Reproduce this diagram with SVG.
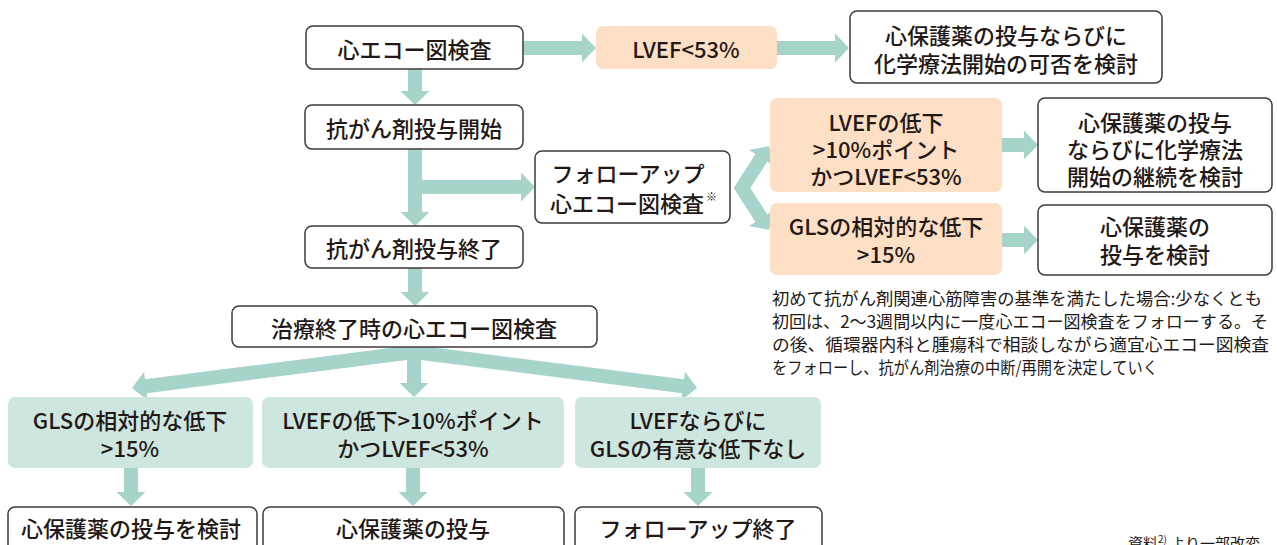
<svg xmlns="http://www.w3.org/2000/svg" xmlns:xlink="http://www.w3.org/1999/xlink" width="1277" height="545" viewBox="0 0 1277 545">
<style>
.bx{fill:#ffffff;stroke:#3e3a39;stroke-width:1.5}
.or{fill:#fcdfc4}
.gr{fill:#cde6e0}
.t{font-family:"Noto Sans CJK JP","Noto Sans",sans-serif;font-size:22px;font-weight:500;fill:#231815;text-anchor:middle;dominant-baseline:central}
.note{font-family:"Noto Sans CJK JP","Noto Sans",sans-serif;font-size:17px;font-weight:400;fill:#231815;dominant-baseline:central}
.sh{stroke:#a6d4cb;stroke-width:14;fill:none;stroke-linejoin:miter}
.hd{fill:#a6d4cb}
</style>
<defs>
<polygon id="ah" class="hd" points="0,0 -14,-14.5 -14,14.5"/>
</defs>
<rect width="1277" height="545" fill="#ffffff"/>
<g id="connectors">
<line class="sh" x1="523" y1="48" x2="584" y2="48"/><use xlink:href="#ah" transform="translate(596,48)"/>
<line class="sh" x1="777" y1="48" x2="837" y2="48"/><use xlink:href="#ah" transform="translate(849,48)"/>
<line class="sh" x1="415" y1="69" x2="415" y2="93"/><use xlink:href="#ah" transform="translate(415,105) rotate(90)"/>
<line class="sh" x1="415" y1="149" x2="415" y2="214"/><use xlink:href="#ah" transform="translate(415,226) rotate(90)"/>
<line class="sh" x1="415" y1="187" x2="523" y2="187"/><use xlink:href="#ah" transform="translate(535,187)"/>
<line class="sh" x1="415" y1="268" x2="415" y2="294"/><use xlink:href="#ah" transform="translate(415,306) rotate(90)"/>
<path class="sh" d="M762.5,156.1 L742,188 L762.5,219.9"/>
<use xlink:href="#ah" transform="translate(769,146) rotate(-57.3)"/>
<use xlink:href="#ah" transform="translate(769,230) rotate(57.3)"/>
<line class="sh" x1="1002" y1="145" x2="1026" y2="145"/><use xlink:href="#ah" transform="translate(1038,145)"/>
<line class="sh" x1="1002" y1="240" x2="1026" y2="240"/><use xlink:href="#ah" transform="translate(1038,240)"/>
<line class="sh" x1="414" y1="345" x2="414" y2="385"/><use xlink:href="#ah" transform="translate(414,397) rotate(90)"/>
<line class="sh" x1="414" y1="352" x2="143.9" y2="386.5"/><use xlink:href="#ah" transform="translate(132,388) rotate(172.73)"/>
<line class="sh" x1="414" y1="352" x2="685.1" y2="386.5"/><use xlink:href="#ah" transform="translate(697,388) rotate(7.25)"/>
<line class="sh" x1="131" y1="466" x2="131" y2="494"/><use xlink:href="#ah" transform="translate(131,506) rotate(90)"/>
<line class="sh" x1="413" y1="466" x2="413" y2="494"/><use xlink:href="#ah" transform="translate(413,506) rotate(90)"/>
<line class="sh" x1="698" y1="466" x2="698" y2="494"/><use xlink:href="#ah" transform="translate(698,506) rotate(90)"/>
</g>
<g id="n-echo"><rect class="bx" x="306" y="26" width="217" height="43" rx="7"/><text class="t" x="414.5" y="47.5">心エコー図検査</text></g>
<g id="n-lvef53"><rect class="or" x="596" y="26" width="181" height="43" rx="7"/><text class="t" x="686" y="47.5">LVEF&lt;53%</text></g>
<g id="n-consider-start"><rect class="bx" x="850" y="11" width="312" height="72" rx="7"/><text class="t" x="1006" y="34">心保護薬の投与ならびに</text><text class="t" x="1006" y="62">化学療法開始の可否を検討</text></g>
<g id="n-start"><rect class="bx" x="305" y="105" width="218" height="44" rx="7"/><text class="t" x="414" y="127">抗がん剤投与開始</text></g>
<g id="n-followup"><rect class="bx" x="535" y="151" width="195" height="72" rx="7"/><text class="t" x="628" y="172">フォローアップ</text><text class="t" x="627" y="202">心エコー図検査</text><text x="706" y="201" style="font-family:'Noto Sans CJK JP',sans-serif;font-size:11px;fill:#231815">※</text></g>
<g id="n-end"><rect class="bx" x="305" y="226" width="218" height="42" rx="7"/><text class="t" x="414" y="247">抗がん剤投与終了</text></g>
<g id="n-lvef-drop"><rect class="or" x="770" y="98" width="232" height="94" rx="7"/><text class="t" x="886" y="121">LVEFの低下</text><text class="t" x="886" y="148">&gt;10%ポイント</text><text class="t" x="886" y="175">かつLVEF&lt;53%</text></g>
<g id="n-gls-drop"><rect class="or" x="770" y="203" width="232" height="72" rx="7"/><text class="t" x="886" y="225">GLSの相対的な低下</text><text class="t" x="886" y="253">&gt;15%</text></g>
<g id="n-continue"><rect class="bx" x="1038" y="98" width="234" height="94" rx="7"/><text class="t" x="1155" y="121">心保護薬の投与</text><text class="t" x="1155" y="148">ならびに化学療法</text><text class="t" x="1155" y="175">開始の継続を検討</text></g>
<g id="n-cardio"><rect class="bx" x="1038" y="205" width="234" height="70" rx="7"/><text class="t" x="1155" y="225">心保護薬の</text><text class="t" x="1155" y="253">投与を検討</text></g>
<g id="note">
<text class="note" x="772" y="297" textLength="490" lengthAdjust="spacingAndGlyphs">初めて抗がん剤関連心筋障害の基準を満たした場合:少なくとも</text>
<text class="note" x="772" y="320" textLength="496" lengthAdjust="spacingAndGlyphs">初回は、2〜3週間以内に一度心エコー図検査をフォローする。そ</text>
<text class="note" x="772" y="343" textLength="497" lengthAdjust="spacingAndGlyphs">の後、循環器内科と腫瘍科で相談しながら適宜心エコー図検査</text>
<text class="note" x="772" y="366" textLength="386" lengthAdjust="spacingAndGlyphs">をフォローし、抗がん剤治療の中断/再開を決定していく</text>
</g>
<g id="n-final-echo"><rect class="bx" x="232" y="306" width="365" height="41" rx="7"/><text class="t" x="414" y="327">治療終了時の心エコー図検査</text></g>
<g id="n-g1"><rect class="gr" x="8" y="397" width="245" height="71" rx="7"/><text class="t" x="130" y="419">GLSの相対的な低下</text><text class="t" x="130" y="447">&gt;15%</text></g>
<g id="n-g2"><rect class="gr" x="262" y="397" width="302" height="71" rx="7"/><text class="t" x="413" y="419">LVEFの低下&gt;10%ポイント</text><text class="t" x="413" y="447">かつLVEF&lt;53%</text></g>
<g id="n-g3"><rect class="gr" x="575" y="397" width="246" height="71" rx="7"/><text class="t" x="698" y="419">LVEFならびに</text><text class="t" x="698" y="447">GLSの有意な低下なし</text></g>
<g id="n-b1"><rect class="bx" x="8" y="507" width="249" height="50" rx="7"/><text class="t" x="131" y="527">心保護薬の投与を検討</text></g>
<g id="n-b2"><rect class="bx" x="263" y="507" width="301" height="50" rx="7"/><text class="t" x="413" y="527">心保護薬の投与</text></g>
<g id="n-b3"><rect class="bx" x="575" y="507" width="247" height="50" rx="7"/><text class="t" x="698" y="527">フォローアップ終了</text></g>
<text x="1128" y="549" style="font-family:'Noto Sans CJK JP',sans-serif;font-size:15px;fill:#231815">資料<tspan font-size="10" dy="-6">2)</tspan><tspan dy="6"> より一部改変</tspan></text>
</svg>
